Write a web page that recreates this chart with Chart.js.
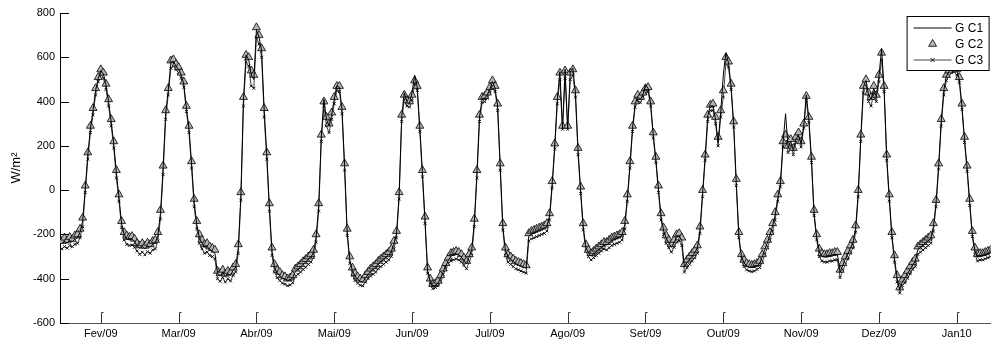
<!DOCTYPE html>
<html>
<head>
<meta charset="utf-8">
<script src="https://cdn.jsdelivr.net/npm/chart.js@4/dist/chart.umd.min.js"></script>
<style>
  html, body { margin: 0; padding: 0; background: #fff; }
  #wrap { width: 996px; height: 347px; }
</style>
</head>
<body>
<div id="wrap"><canvas id="c" width="996" height="347"></canvas></div>
<script>
// Month tick labels (one typical daily cycle per month)
const months = ['Fev/09','Mar/09','Abr/09','Mai/09','Jun/09','Jul/09','Ago/09','Set/09','Out/09','Nov/09','Dez/09','Jan10'];
const samplesPerMonth = 30;
const seriesNames = ['G C1', 'G C2', 'G C3'];

// G C1 (W/m²), 30 samples per month, month by month
const gc1 = [
  -240,-232,-238,-228,-232,-222,-215,-190,-140,5,160,280,360,450,505,540,525,475,400,310,210,80,-30,-150,-200,-220,-225,-222,-232,-252,
  -262,-255,-265,-252,-258,-245,-240,-205,-105,95,345,450,575,580,560,545,520,480,370,280,120,-55,-155,-215,-240,-258,-255,-268,-275,-285,
  -375,-388,-372,-390,-378,-385,-362,-348,-260,-25,410,610,590,520,500,725,690,630,360,160,-75,-275,-350,-375,-385,-398,-402,-410,-405,-395,
  -368,-358,-348,-335,-325,-312,-302,-282,-212,-75,240,410,320,290,340,410,470,465,365,110,-190,-315,-365,-388,-402,-412,-415,-398,-382,-368,
  -358,-348,-332,-322,-312,-302,-292,-278,-242,-198,-25,330,440,400,390,440,520,465,280,80,-135,-365,-412,-435,-430,-420,-398,-368,-342,-318,
  -298,-292,-288,-292,-302,-318,-332,-302,-272,-145,75,330,410,415,430,455,490,460,380,110,-165,-272,-302,-312,-322,-332,-338,-342,-348,-352,
  -208,-198,-192,-188,-182,-178,-172,-162,-118,25,200,410,535,280,545,280,535,550,440,180,0,-165,-258,-282,-298,-288,-278,-268,-258,-248,
  -248,-238,-228,-222,-218,-212,-202,-155,-35,115,280,390,420,410,430,475,460,390,250,140,5,-120,-182,-218,-238,-258,-238,-212,-208,-228,
  -348,-328,-312,-298,-282,-262,-178,-15,150,335,380,380,320,215,350,520,620,575,470,300,35,-205,-302,-328,-342,-348,-350,-348,-342,-332,
  -302,-268,-238,-202,-162,-112,-35,30,210,345,190,220,180,230,250,210,290,430,320,140,-105,-212,-278,-298,-302,-302,-298,-298,-292,-292,
  -372,-342,-312,-288,-262,-238,-172,-15,240,465,495,430,410,460,420,515,636,460,150,-35,-205,-308,-398,-450,-415,-398,-378,-358,-338,-322,
  -268,-258,-248,-238,-228,-218,-165,-60,110,310,450,515,535,550,560,540,500,380,230,100,-55,-200,-272,-302,-298,-298,-292,-288,-282,-278
];

// G C2 (W/m²)
const gc2 = [
  -230,-215,-228,-212,-222,-205,-200,-175,-125,20,170,290,370,460,510,545,530,480,410,320,220,90,-20,-140,-190,-205,-212,-208,-220,-240,
  -250,-240,-252,-238,-245,-230,-225,-190,-90,110,360,460,585,590,570,555,530,490,380,290,130,-40,-140,-200,-225,-245,-240,-255,-262,-270,
  -365,-375,-360,-378,-365,-372,-350,-335,-245,-10,420,610,600,540,520,735,700,640,370,170,-60,-260,-335,-360,-370,-385,-390,-400,-395,-385,
  -355,-345,-335,-322,-312,-300,-290,-270,-200,-60,250,400,330,300,350,420,470,470,375,120,-175,-300,-350,-375,-390,-400,-405,-385,-370,-355,
  -345,-335,-320,-310,-300,-290,-280,-265,-230,-185,-10,340,430,405,400,430,495,470,290,90,-120,-350,-400,-425,-420,-410,-385,-355,-330,-305,
  -285,-280,-275,-280,-290,-305,-320,-290,-260,-130,90,340,420,425,440,465,495,470,390,120,-150,-260,-290,-300,-310,-320,-325,-330,-335,-340,
  -195,-185,-180,-175,-170,-165,-160,-150,-105,40,210,420,530,290,540,290,530,545,450,190,15,-150,-245,-270,-285,-275,-265,-255,-245,-235,
  -235,-225,-215,-210,-205,-200,-190,-140,-20,130,290,400,430,420,440,460,465,400,260,150,20,-105,-170,-205,-225,-245,-225,-200,-195,-215,
  -335,-315,-300,-285,-270,-250,-165,0,160,340,385,390,330,240,360,450,600,580,480,310,50,-190,-290,-315,-330,-335,-338,-335,-330,-320,
  -290,-255,-225,-190,-150,-100,-20,40,220,250,200,230,190,240,260,220,300,425,330,150,-90,-200,-265,-285,-290,-290,-285,-285,-280,-280,
  -360,-330,-300,-275,-250,-225,-160,0,250,470,500,440,420,470,430,520,620,470,160,-20,-190,-295,-385,-440,-405,-385,-365,-345,-325,-310,
  -255,-245,-235,-225,-215,-205,-150,-45,120,320,460,520,540,555,560,545,510,390,240,110,-40,-185,-260,-290,-285,-285,-280,-275,-270,-265
];

// G C3 (W/m²)
const gc3 = [
  -265,-255,-262,-250,-255,-245,-240,-215,-165,-10,140,260,340,430,490,525,505,455,380,290,190,55,-50,-170,-225,-245,-250,-248,-258,-275,
  -290,-280,-292,-278,-285,-270,-265,-230,-130,70,320,430,550,560,545,530,505,465,355,260,100,-75,-175,-240,-265,-285,-280,-295,-300,-310,
  -400,-412,-395,-415,-400,-410,-385,-370,-285,-45,380,580,560,470,460,690,660,600,330,140,-95,-295,-370,-395,-408,-420,-425,-432,-428,-418,
  -390,-380,-370,-358,-348,-335,-325,-305,-235,-95,220,380,290,260,320,390,450,445,345,90,-205,-330,-385,-408,-420,-430,-432,-415,-400,-388,
  -380,-370,-355,-345,-335,-325,-315,-300,-265,-215,-40,310,410,380,375,405,480,450,265,60,-150,-375,-425,-445,-440,-432,-410,-380,-355,-330,
  -320,-315,-310,-315,-325,-340,-355,-325,-295,-165,55,310,395,400,415,440,470,445,360,90,-180,-295,-325,-335,-345,-355,-360,-365,-370,-375,
  -230,-220,-215,-210,-205,-200,-195,-185,-135,10,185,390,500,275,505,275,500,520,420,160,-15,-180,-275,-300,-315,-305,-295,-285,-275,-265,
  -270,-260,-250,-245,-240,-235,-225,-175,-50,100,265,375,405,395,420,440,445,380,235,125,-10,-135,-200,-240,-260,-280,-258,-235,-228,-250,
  -370,-350,-335,-320,-305,-285,-195,-30,135,310,360,360,300,200,330,420,575,555,455,285,20,-215,-320,-345,-360,-365,-368,-365,-358,-350,
  -325,-290,-260,-225,-185,-135,-50,15,195,220,170,200,160,215,235,195,280,405,305,125,-115,-225,-300,-320,-325,-325,-320,-320,-315,-315,
  -395,-365,-335,-310,-285,-260,-190,-30,220,440,470,400,380,440,400,490,590,445,135,-50,-215,-325,-415,-465,-430,-418,-398,-378,-358,-345,
  -290,-280,-270,-260,-250,-240,-185,-75,95,290,430,495,515,530,535,520,485,365,215,85,-70,-210,-290,-320,-315,-315,-310,-305,-300,-295
];

// sample position in month units: month tick at 1..12, each month sampled from -0.5 to +0.5
function toPoints(vals) {
  return vals.map((v, i) => ({ x: 0.5 + i / samplesPerMonth, y: v }));
}

const FONT = '"Liberation Sans", Arial, sans-serif';

const decor = {
  id: 'decor',
  afterDraw(chart) {
    const { ctx, chartArea: a, scales: { x, y } } = chart;
    ctx.save();
    // inward y ticks
    ctx.strokeStyle = '#000';
    ctx.lineWidth = 1;
    y.ticks.forEach(t => {
      const py = Math.round(y.getPixelForValue(t.value)) + 0.5;
      ctx.beginPath();
      ctx.moveTo(a.left, py);
      ctx.lineTo(a.left + 9, py);
      ctx.stroke();
    });
    // inward x ticks "[" style
    ctx.strokeStyle = '#333';
    x.ticks.forEach(t => {
      const px = Math.round(x.getPixelForValue(t.value)) + 0.5;
      ctx.beginPath();
      ctx.moveTo(px + 2, a.bottom - 10.5);
      ctx.lineTo(px, a.bottom - 10.5);
      ctx.lineTo(px, a.bottom);
      ctx.stroke();
    });
    // legend box
    const bx = a.right - 83.5, by = 16.5, bw = 82, bh = 54;
    ctx.fillStyle = '#fff';
    ctx.fillRect(bx, by, bw, bh);
    ctx.strokeStyle = '#000';
    ctx.lineWidth = 1;
    ctx.strokeRect(bx, by, bw, bh);
    const rows = [by + 11.5, by + 27.5, by + 43.5];
    const lx0 = bx + 6.5, lx1 = bx + 44.5, mx = bx + 25.5;
    // GC1 line
    ctx.beginPath(); ctx.moveTo(lx0, rows[0]); ctx.lineTo(lx1, rows[0]); ctx.strokeStyle = '#000'; ctx.stroke();
    // GC2 triangle
    ctx.beginPath();
    const r = 4.6;
    ctx.moveTo(mx, rows[1] - r);
    ctx.lineTo(mx + r * 0.866, rows[1] + r * 0.5);
    ctx.lineTo(mx - r * 0.866, rows[1] + r * 0.5);
    ctx.closePath();
    ctx.fillStyle = '#b4b4b4'; ctx.fill();
    ctx.lineWidth = 0.8; ctx.strokeStyle = '#000'; ctx.stroke();
    // GC3 line + x
    ctx.lineWidth = 1;
    ctx.beginPath(); ctx.moveTo(lx0, rows[2]); ctx.lineTo(lx1, rows[2]); ctx.strokeStyle = '#444'; ctx.stroke();
    ctx.beginPath();
    ctx.moveTo(mx - 2, rows[2] - 2); ctx.lineTo(mx + 2, rows[2] + 2);
    ctx.moveTo(mx + 2, rows[2] - 2); ctx.lineTo(mx - 2, rows[2] + 2);
    ctx.strokeStyle = '#111'; ctx.stroke();
    // texts
    ctx.fillStyle = '#000';
    ctx.font = '12px ' + FONT;
    ctx.textBaseline = 'middle';
    ctx.textAlign = 'left';
    seriesNames.forEach((n, i) => ctx.fillText(n, bx + 48, rows[i] + 0.5));
    ctx.restore();
  }
};

new Chart(document.getElementById('c'), {
  type: 'line',
  data: {
    datasets: [
      {
        label: seriesNames[0],
        data: toPoints(gc1),
        borderColor: '#000',
        borderWidth: 1,
        pointRadius: 0,
        tension: 0,
        fill: false
      },
      {
        label: seriesNames[1],
        data: toPoints(gc2),
        showLine: false,
        pointStyle: 'triangle',
        pointRadius: 4.6,
        pointBackgroundColor: '#b4b4b4',
        pointBorderColor: '#000',
        pointBorderWidth: 0.8,
        fill: false
      },
      {
        label: seriesNames[2],
        data: toPoints(gc3),
        borderColor: '#444',
        borderWidth: 1,
        pointStyle: 'crossRot',
        pointRadius: 2,
        pointBorderColor: '#111',
        pointBorderWidth: 1,
        tension: 0,
        fill: false
      }
    ]
  },
  options: {
    responsive: false,
    animation: false,
    devicePixelRatio: 1,
    layout: { padding: { left: 0, right: 1, top: 13, bottom: 0 } },
    plugins: { legend: { display: false }, tooltip: { enabled: false } },
    scales: {
      x: {
        type: 'linear',
        min: 0.4756,
        max: 12.435,
        afterFit(s) { s.height = 24; },
        afterBuildTicks(s) { s.ticks = months.map((m, i) => ({ value: i + 1 })); },
        ticks: {
          autoSkip: false,
          maxRotation: 0,
          padding: 4,
          color: '#000',
          font: { family: FONT, size: 11 },
          callback: (v) => months[Math.round(v) - 1] || ''
        },
        grid: { display: false, drawTicks: false },
        border: { display: true, color: '#555', width: 1 }
      },
      y: {
        min: -600,
        max: 800,
        afterFit(s) { s.width = 60; },
        ticks: {
          stepSize: 200,
          padding: 5,
          color: '#000',
          font: { family: FONT, size: 11 }
        },
        grid: { display: false, drawTicks: false },
        border: { display: true, color: '#000', width: 1 },
        title: {
          display: true,
          text: 'W/m²',
          color: '#000',
          font: { family: FONT, size: 13 },
          padding: { top: 9, bottom: 0 }
        }
      }
    }
  },
  plugins: [decor]
});
</script>
</body>
</html>
